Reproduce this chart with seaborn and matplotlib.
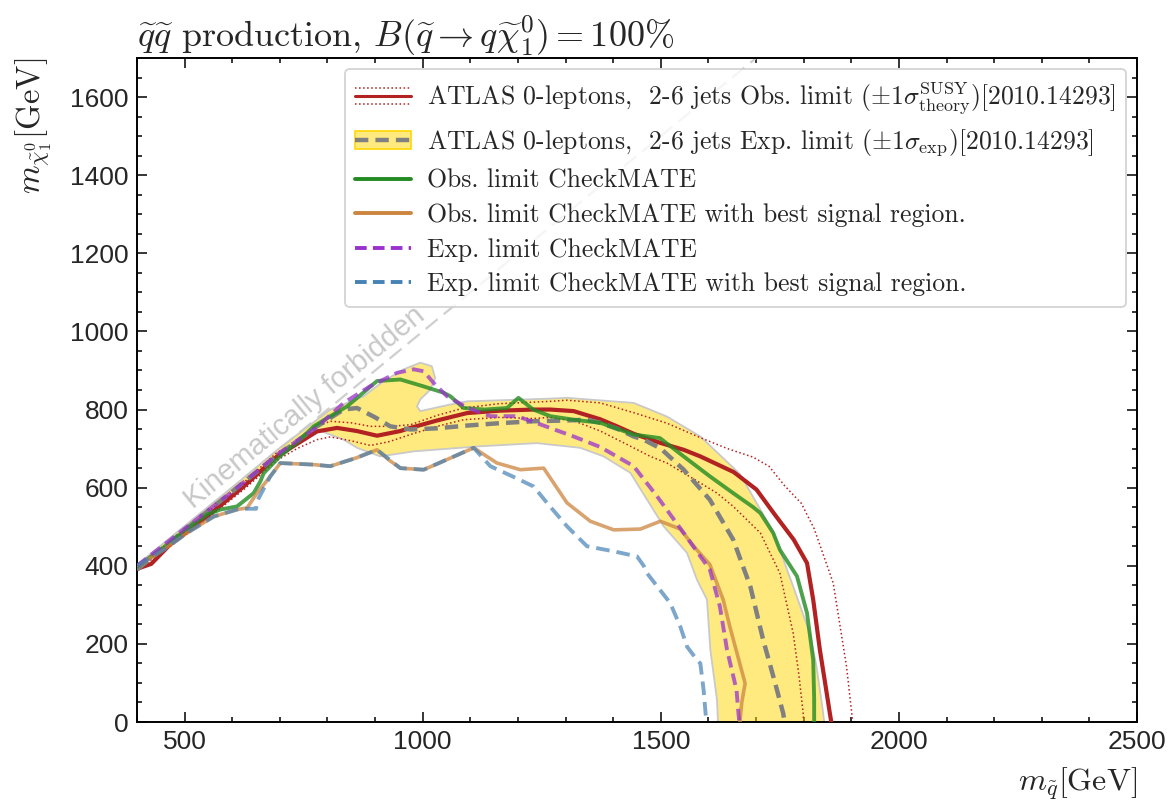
import matplotlib
matplotlib.use("Agg")
import matplotlib.pyplot as plt
import seaborn as sns
from matplotlib.lines import Line2D
from matplotlib.patches import Patch
from matplotlib.legend_handler import HandlerBase
from matplotlib.ticker import MultipleLocator

# ---------------------------------------------------------------- data (GeV)
# ATLAS observed limit and its +/-1 sigma theory variations
atlas_obs_x = [400, 430, 470, 547, 624, 694, 736, 778, 820, 862, 904, 953, 974, 1030, 1093,
               1160, 1232, 1268, 1317, 1373, 1408, 1443, 1498, 1548, 1583, 1653, 1701, 1740,
               1779, 1807, 1820, 1834, 1845, 1855, 1858]
atlas_obs_y = [392, 405, 455, 526, 603, 680, 712, 744, 753, 745, 733, 745, 753, 772, 791,
               797, 800, 800, 796, 775, 757, 738, 715, 697, 680, 640, 595, 530,
               467, 407, 313, 185, 100, 22, 0]

atlas_obs_up_x = [400, 470, 547, 624, 694, 736, 778, 806, 850, 890, 930, 974, 1030, 1086, 1160,
                  1268, 1303, 1373, 1443, 1513, 1583, 1640, 1694, 1727, 1760, 1795, 1822, 1862,
                  1890, 1901, 1903]
atlas_obs_up_y = [400, 460, 536, 613, 690, 714, 757, 770, 766, 757, 757, 761, 785, 804, 815,
                  821, 824, 817, 792, 765, 728, 700, 678, 655, 605, 560, 495, 356,
                  142, 22, 0]

atlas_obs_dn_x = [400, 470, 547, 624, 694, 736, 778, 806, 850, 890, 930, 974, 1030, 1086, 1160,
                  1232, 1268, 1320, 1373, 1430, 1478, 1513, 1583, 1618, 1652, 1709, 1750, 1778,
                  1790, 1799, 1800]
atlas_obs_dn_y = [390, 450, 520, 595, 670, 700, 723, 730, 720, 708, 718, 736, 757, 774, 780,
                  777, 780, 770, 745, 710, 680, 663, 612, 586, 552, 484, 381, 227,
                  120, 22, 0]

# ATLAS expected limit
atlas_exp_x = [400, 450, 526, 600, 666, 720, 778, 834, 862, 900, 932, 974, 1030, 1093, 1160,
               1232, 1300, 1345, 1373, 1410, 1443, 1464, 1500, 1548, 1603, 1652, 1688, 1715,
               1740, 1757, 1760]
atlas_exp_y = [390, 440, 518, 590, 655, 705, 757, 800, 804, 780, 757, 749, 752, 759, 765,
               770, 772, 774, 766, 750, 731, 723, 700, 646, 569, 467, 347, 210,
               100, 22, 0]

# +/-1 sigma expected band: upper edge (left to right), lower edge (right to left)
band_up_x = [400, 500, 600, 700, 806, 876, 918, 960, 995, 1019, 1026, 1016, 995, 988, 995,
             1058, 1093, 1268, 1303, 1443, 1513, 1583, 1666, 1736, 1778, 1813, 1827, 1841, 1843]
band_up_y = [402, 502, 601, 702, 800, 834, 873, 903, 920, 911, 881, 851, 826, 808, 796,
             813, 821, 828, 830, 817, 782, 731, 635, 487, 347, 227, 142, 22, 0]
band_lo_x = [1620, 1618, 1604, 1597, 1576, 1555, 1506, 1436, 1380, 1331, 1240, 1121, 981,
             911, 862, 834, 780, 700, 600, 500, 400]
band_lo_y = [0, 56, 185, 313, 364, 433, 501, 638, 680, 702, 714, 706, 693,
             680, 702, 723, 748, 682, 585, 488, 388]

# CheckMATE observed limit
cm_obs_x = [400, 456, 500, 547, 575, 610, 645, 659, 666, 700, 740, 771, 806, 841, 904, 953,
            1000, 1044, 1058, 1086, 1130, 1177, 1201, 1232, 1268, 1317, 1373, 1443, 1498,
            1548, 1603, 1652, 1694, 1709, 1736, 1750, 1786, 1807, 1820, 1822, 1822]
cm_obs_y = [398, 447, 490, 531, 544, 552, 586, 616, 637, 680, 720, 757, 783, 808, 873, 877,
            860, 843, 834, 804, 800, 804, 830, 800, 783, 774, 766, 736, 727,
            680, 629, 586, 550, 535, 484, 441, 373, 279, 159, 60, 0]

# CheckMATE observed limit, best signal region
cm_obs_sr_x = [400, 456, 505, 561, 610, 631, 652, 680, 701, 771, 806, 860, 904, 930, 953,
               1002, 1051, 1107, 1156, 1205, 1254, 1303, 1352, 1401, 1457, 1499, 1541, 1569,
               1603, 1631, 1645, 1660, 1677, 1670, 1666]
cm_obs_sr_y = [400, 441, 484, 526, 544, 548, 586, 629, 663, 659, 655, 676, 697, 670, 650,
               646, 672, 702, 663, 646, 650, 561, 514, 492, 494, 514, 494, 450,
               403, 313, 244, 176, 99, 50, 0]

# CheckMATE expected limit
cm_exp_x = [400, 500, 600, 700, 778, 834, 890, 946, 981, 1002, 1023, 1051, 1093, 1142, 1198,
            1247, 1317, 1373, 1443, 1478, 1492, 1548, 1603, 1624, 1639, 1659, 1663, 1665]
cm_exp_y = [400, 495, 590, 690, 755, 817, 860, 894, 903, 898, 868, 834, 805, 783, 783,
            762, 731, 704, 655, 600, 578, 484, 390, 296, 185, 82, 22, 0]

# CheckMATE expected limit, best signal region
cm_exp_sr_x = [400, 456, 505, 561, 610, 631, 650, 652, 680, 701, 771, 806, 860, 904, 953,
               1002, 1051, 1107, 1142, 1190, 1233, 1261, 1303, 1345, 1401, 1450, 1464, 1471,
               1520, 1541, 1555, 1576, 1583, 1590, 1594, 1596]
cm_exp_sr_y = [400, 441, 484, 526, 544, 546, 546, 565, 629, 663, 659, 655, 676, 697, 650,
               646, 672, 702, 655, 628, 603, 561, 501, 450, 437, 424, 400, 381,
               304, 244, 193, 159, 150, 80, 22, 0]

# kinematic boundary m_chi = m_squark
diag_x = [400, 1700]
diag_y = [400, 1700]

labels = [
    r"ATLAS 0-leptons,  2-6 jets Obs. limit $(\pm1\sigma^{\mathrm{SUSY}}_{\mathrm{theory}})$[2010.14293]",
    r"ATLAS 0-leptons,  2-6 jets Exp. limit $(\pm1\sigma_{\mathrm{exp}})$[2010.14293]",
    "Obs. limit CheckMATE",
    "Obs. limit CheckMATE with best signal region.",
    "Exp. limit CheckMATE",
    "Exp. limit CheckMATE with best signal region.",
]

# ---------------------------------------------------------------- style
sns.set_theme(style="ticks")
plt.rcParams["font.family"] = ["Liberation Sans", "DejaVu Sans"]
plt.rcParams["mathtext.fontset"] = "cm"
plt.rcParams["axes.unicode_minus"] = False

C_RED = "firebrick"
C_GRAY = "#808080"
C_GREEN = "forestgreen"
C_ORANGE = "peru"
C_PURPLE = "darkorchid"
C_BLUE = "steelblue"
BAND_FACE = (1.0, 0.843, 0.0, 0.5)

fig = plt.figure(figsize=(11.74, 8.06), dpi=100)
ax = fig.add_axes([0.1167, 0.1042, 0.8518, 0.8238])


def curve(x, y, color, lw, dashes=None, alpha=1.0, z=3):
    n = len(ax.lines)
    sns.lineplot(x=x, y=y, sort=False, estimator=None, ax=ax, color=color,
                 linewidth=lw, alpha=alpha, zorder=z, legend=False)
    line = ax.lines[n]
    if dashes == "dot":
        line.set_linestyle(":")
    elif dashes is not None:
        line.set_dashes(dashes)
    return line


# expected band
ax.fill(band_up_x + band_lo_x, band_up_y + band_lo_y, facecolor=BAND_FACE,
        edgecolor="#c9c9c9", linewidth=1.3, zorder=1)

# kinematic boundary and label
curve(diag_x, diag_y, "#cfcfcf", 1.6, dashes=(7, 3.5), z=0.8)
ax.text(752, 806, "Kinematically forbidden", rotation=45, transform_rotates_text=True,
        rotation_mode="anchor", ha="center", va="center", fontsize=21,
        color="#c8c8c8", family=["Liberation Sans", "DejaVu Sans"], zorder=0.9)

curve(atlas_obs_up_x, atlas_obs_up_y, C_RED, 1.1, dashes="dot", z=2)
curve(atlas_obs_dn_x, atlas_obs_dn_y, C_RED, 1.1, dashes="dot", z=2)
curve(atlas_obs_x, atlas_obs_y, C_RED, 3.0, z=3)
curve(atlas_exp_x, atlas_exp_y, C_GRAY, 3.2, dashes=(3, 1.6), z=4)
curve(cm_obs_x, cm_obs_y, C_GREEN, 2.8, alpha=0.8, z=5)
curve(cm_obs_sr_x, cm_obs_sr_y, C_ORANGE, 2.6, alpha=0.75, z=5)
curve(cm_exp_x, cm_exp_y, C_PURPLE, 2.8, dashes=(3, 1.6), alpha=0.75, z=6)
curve(cm_exp_sr_x, cm_exp_sr_y, C_BLUE, 2.8, dashes=(3.5, 1.8), alpha=0.7, z=6)

# ---------------------------------------------------------------- axes
ax.set_xlim(400, 2500)
ax.set_ylim(0, 1700)
ax.xaxis.set_major_locator(MultipleLocator(500))
ax.xaxis.set_minor_locator(MultipleLocator(100))
ax.yaxis.set_major_locator(MultipleLocator(200))
ax.yaxis.set_minor_locator(MultipleLocator(50))
ax.tick_params(which="both", direction="in", top=True, right=True, color="black", width=1.1)
ax.tick_params(which="major", length=7.5, labelsize=19, pad=6)
ax.tick_params(which="minor", length=3.8)
for sp in ax.spines.values():
    sp.set_linewidth(1.4)
    sp.set_color("black")

ax.set_xlabel(r"$m_{\tilde{q}}[\mathrm{GeV}]$", fontsize=23, loc="right")
ax.xaxis.set_label_coords(1.0, -0.066)
ax.set_ylabel(r"$m_{\tilde{\chi}_1^0}[\mathrm{GeV}]$", fontsize=23.5, loc="top")
ax.yaxis.set_label_coords(-0.083, 1.0)
ax.set_title(r"$\widetilde{q}\widetilde{q}$ production, $B(\widetilde{q}\rightarrow q\widetilde{\chi}_1^0) = 100\%$",
             loc="left", fontsize=26, family="cmr10", pad=6)

# ---------------------------------------------------------------- legend


class ObsWithTheoryHandler(HandlerBase):
    def create_artists(self, legend, orig_handle, xdescent, ydescent, width, height,
                       fontsize, trans):
        y0 = height / 2.0 - ydescent
        out = []
        for dy, ls, lw in [(0.0, "-", 2.2), (0.45 * height, ":", 1.1), (-0.45 * height, ":", 1.1)]:
            out.append(Line2D([-xdescent, width - xdescent], [y0 + dy, y0 + dy],
                              color=C_RED, linestyle=ls, linewidth=lw, transform=trans))
        return out


obs_handle = Line2D([], [], color=C_RED)
exp_handle = (Patch(facecolor=BAND_FACE, edgecolor="gold", linewidth=1.2),
              Line2D([], [], color=C_GRAY, lw=3.2, dashes=(3, 1.6)))
handles = [
    obs_handle,
    exp_handle,
    Line2D([], [], color=C_GREEN, lw=2.8),
    Line2D([], [], color=C_ORANGE, lw=2.8),
    Line2D([], [], color=C_PURPLE, lw=2.8, dashes=(3, 1.6)),
    Line2D([], [], color=C_BLUE, lw=2.8, dashes=(3, 1.6)),
]
leg = ax.legend(handles, labels, loc="upper right", bbox_to_anchor=(0.989, 0.983),
                borderaxespad=0.0, handler_map={obs_handle: ObsWithTheoryHandler()},
                prop={"family": "cmr10", "size": 18.5}, handlelength=2.2,
                handletextpad=0.6, labelspacing=0.42, frameon=True, fancybox=True,
                framealpha=0.8, edgecolor="#cccccc")
leg.get_frame().set_linewidth(1.4)
leg.set_zorder(10)

fig.savefig("out.png", dpi=100)
